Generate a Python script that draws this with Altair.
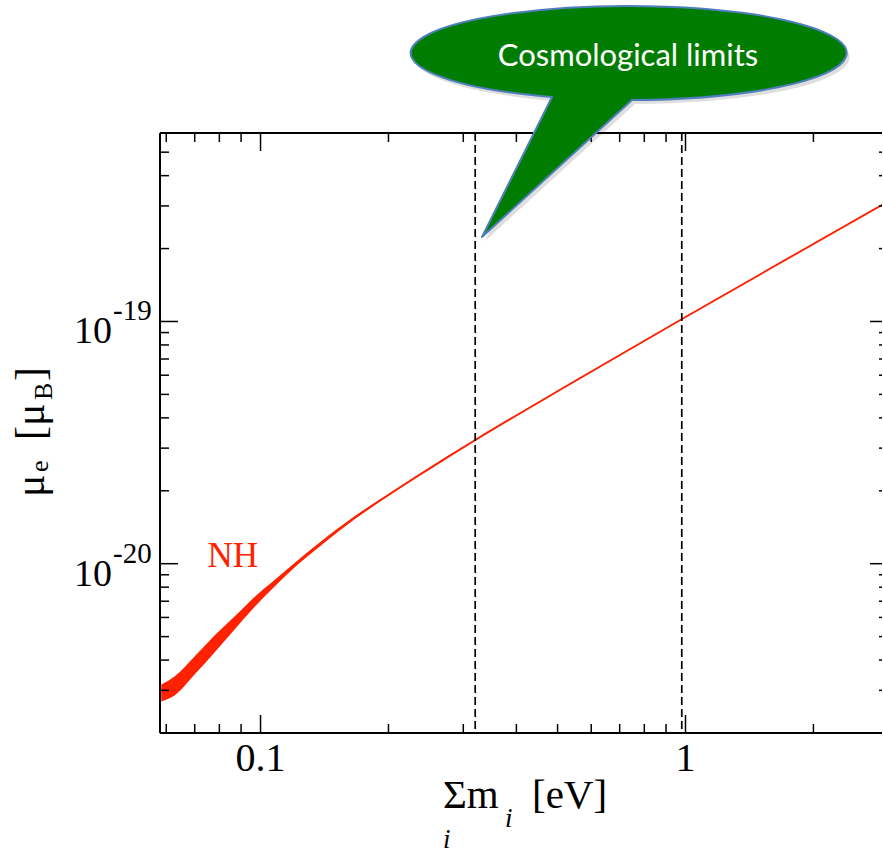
import altair as alt
import pandas as pd

# ---- data ----
sum_m = [0.05839, 0.06275, 0.06994, 0.07793, 0.08686, 0.09680, 0.10614, 0.12023,
         0.13916, 0.16643, 0.19372, 0.23285, 0.27846, 0.32233, 0.54214, 0.98388, 2.9075]
mu_low = [2.698e-21, 2.856e-21, 3.488e-21, 4.300e-21, 5.354e-21, 6.630e-21, 7.831e-21,
          9.654e-21, 1.1949e-20, 1.5242e-20, 1.8350e-20, 2.2668e-20, 2.7657e-20,
          3.2440e-20, 5.5642e-20, 1.0221e-19, 3.0241e-19]
mu_high = [3.171e-21, 3.422e-21, 4.140e-21, 5.054e-21, 6.056e-21, 7.293e-21, 8.369e-21,
           1.0076e-20, 1.2409e-20, 1.5683e-20, 1.8701e-20, 2.3059e-20, 2.8081e-20,
           3.2875e-20, 5.6281e-20, 1.0319e-19, 3.0530e-19]

cosmo_limits = [0.32, 0.98]

x_major = [0.1, 1.0]
x_major_labels = ["0.1", "1"]
x_minor = [0.06, 0.07, 0.08, 0.09, 0.2, 0.3, 0.4, 0.5, 0.6, 0.7, 0.8, 0.9, 2.0]
y_major = [1e-20, 1e-19]
y_major_exp = ["-20", "-19"]
y_minor = [3e-21, 4e-21, 5e-21, 6e-21, 7e-21, 8e-21, 9e-21,
           2e-20, 3e-20, 4e-20, 5e-20, 6e-20, 7e-20, 8e-20, 9e-20,
           2e-19, 3e-19, 4e-19, 5e-19]

x_domain = [0.058, 2.9]
y_domain = [2e-21, 6e-19]

W, H = 722, 600
RED = "#ff2200"
SERIF = "'Liberation Serif', 'Times New Roman', 'DejaVu Serif', serif"

xs = alt.Scale(type="log", domain=x_domain, nice=False)
ys = alt.Scale(type="log", domain=y_domain, nice=False)

band = pd.DataFrame({"m": sum_m, "lo": mu_low, "hi": mu_high})
band["mid"] = (band["lo"] * band["hi"]) ** 0.5
one = pd.DataFrame({"d": [0]})

area = alt.Chart(band).mark_area(color=RED, clip=True, interpolate="monotone").encode(
    x=alt.X("m:Q", scale=xs, axis=None),
    y=alt.Y("lo:Q", scale=ys, axis=None),
    y2="hi:Q",
)
line = alt.Chart(band).mark_line(color=RED, strokeWidth=1.8, clip=True, interpolate="monotone").encode(
    x=alt.X("m:Q", scale=xs, axis=None),
    y=alt.Y("mid:Q", scale=ys, axis=None),
)

dashed = alt.Chart(pd.DataFrame({"v": cosmo_limits})).mark_rule(
    color="black", strokeWidth=1.7, strokeDash=[8, 4]
).encode(x=alt.X("v:Q", scale=xs, axis=None), y=alt.value(0), y2=alt.value(H))

# frame (left, bottom, top; right edge falls outside the picture)
frame_style = dict(color="black", strokeWidth=2)
left_line = alt.Chart(one).mark_rule(**frame_style).encode(x=alt.value(0), y=alt.value(0), y2=alt.value(H))
bottom_line = alt.Chart(one).mark_rule(**frame_style).encode(y=alt.value(H), x=alt.value(0), x2=alt.value(W))
top_line = alt.Chart(one).mark_rule(**frame_style).encode(y=alt.value(0), x=alt.value(0), x2=alt.value(W))

tick_style = dict(color="black", strokeWidth=1.5)
MAJ, MIN = 18, 9
xmaj = pd.DataFrame({"v": x_major, "t": x_major_labels})
xmin = pd.DataFrame({"v": x_minor})
ymaj = pd.DataFrame({"v": y_major, "base": ["10", "10"], "exp": y_major_exp})
ymin = pd.DataFrame({"v": y_minor})

ticks = []
for df, ln in [(xmaj, MAJ), (xmin, MIN)]:
    ticks.append(alt.Chart(df).mark_rule(**tick_style).encode(
        x=alt.X("v:Q", scale=xs, axis=None), y=alt.value(H), y2=alt.value(H - ln)))
    ticks.append(alt.Chart(df).mark_rule(**tick_style).encode(
        x=alt.X("v:Q", scale=xs, axis=None), y=alt.value(0), y2=alt.value(ln)))
for df, ln, rln in [(ymaj, MAJ, 12), (ymin, MIN, 3)]:
    ticks.append(alt.Chart(df).mark_rule(**tick_style).encode(
        y=alt.Y("v:Q", scale=ys, axis=None), x=alt.value(0), x2=alt.value(ln)))
    ticks.append(alt.Chart(df).mark_rule(**tick_style).encode(
        y=alt.Y("v:Q", scale=ys, axis=None), x=alt.value(W - rln), x2=alt.value(W)))

# tick labels
xlab = alt.Chart(xmaj).mark_text(font=SERIF, fontSize=40, align="center", baseline="alphabetic").encode(
    x=alt.X("v:Q", scale=xs, axis=None), y=alt.value(638), text="t:N")
ylab = alt.Chart(ymaj).mark_text(font=SERIF, fontSize=38, align="right", baseline="alphabetic", dy=22).encode(
    y=alt.Y("v:Q", scale=ys, axis=None), x=alt.value(-48), text="base:N")
yexp = alt.Chart(ymaj).mark_text(font=SERIF, fontSize=29, align="left", baseline="alphabetic", dy=-1).encode(
    y=alt.Y("v:Q", scale=ys, axis=None), x=alt.value(-47), text="exp:N")

# axis titles
def txt(s, x, y, size, angle=0, italic=False, align="left", color="black", font=SERIF):
    kw = dict(font=font, fontSize=size, align=align, baseline="alphabetic", color=color)
    if angle:
        kw["angle"] = angle
    if italic:
        kw["fontStyle"] = "italic"
    return alt.Chart(pd.DataFrame({"t": [s]})).mark_text(**kw).encode(
        x=alt.value(x), y=alt.value(y), text="t:N")

xtitle = [
    txt("Σm", 283, 675, 41),
    txt("i", 345, 694, 27, italic=True),
    txt("[eV]", 372, 675, 41),
    txt("i", 283, 715, 27, italic=True),
]
ytitle = [
    txt("μ", -116, 364, 42, angle=270),
    txt("e", -112, 339, 26, angle=270),
    txt("[μ", -116, 307, 42, angle=270),
    txt("B", -108, 267, 26, angle=270),
    txt("]", -116, 248, 42, angle=270),
]

nh = alt.Chart(pd.DataFrame({"m": [0.075], "mu": [9.65e-21], "t": ["NH"]})).mark_text(
    font=SERIF, fontSize=35, color=RED, align="left", baseline="alphabetic"
).encode(x=alt.X("m:Q", scale=xs, axis=None), y=alt.Y("mu:Q", scale=ys, axis=None), text="t:N")

# speech bubble (path in pixel units around its centre; size=4 -> scale 1)
rx, ry = 218, 47
bl, tip, br = (-76, 44), (-146, 184), (4, 47)
bubble_path = (f"M {bl[0]} {bl[1]} L {tip[0]} {tip[1]} L {br[0]} {br[1]} "
               f"A {rx} {ry} 0 1 0 {bl[0]} {bl[1]} Z")
bx, by = 468, -80
shadow = alt.Chart(one).mark_point(shape=bubble_path, size=4, filled=True, fill="#000000",
                                   opacity=0.13, strokeWidth=0).encode(
    x=alt.value(bx + 3), y=alt.value(by + 4))
bubble = alt.Chart(one).mark_point(shape=bubble_path, size=4, filled=True, fill="#007d00",
                                   stroke="#4f7fbd", strokeWidth=2, strokeJoin="round",
                                   opacity=1).encode(
    x=alt.value(bx), y=alt.value(by))
bubble_text = txt("Cosmological limits", 468, -67, 31, align="center", color="white", font="Lato")

layers = [area, line, dashed, left_line, bottom_line, top_line] + ticks + \
         [xlab, ylab, yexp] + xtitle + ytitle + [nh, shadow, bubble, bubble_text]

chart = alt.layer(*layers).properties(
    width=W, height=H,
    autosize=alt.AutoSizeParams(type="none"),
    padding={"left": 160, "top": 133, "right": 0, "bottom": 123},
    background="white",
).configure_view(stroke=None)

chart.save("out.html", embed_options={"renderer": "svg", "actions": False})
